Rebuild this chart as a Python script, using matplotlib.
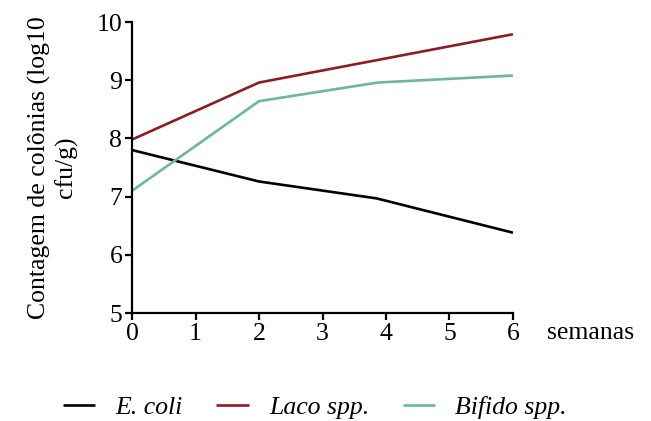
import matplotlib
matplotlib.use("Agg")
import matplotlib.pyplot as plt

plt.rcParams['font.family'] = ['Liberation Serif', 'DejaVu Serif']

# data
weeks_ecoli = [0, 2, 3.85, 6]
ecoli = [7.8, 7.26, 6.97, 6.38]

weeks_laco = [0, 2, 6]
laco = [7.98, 8.96, 9.79]

weeks_bifido = [0, 2, 3.87, 6]
bifido = [7.1, 8.64, 8.96, 9.08]

series_names = ['E. coli', 'Laco spp.', 'Bifido spp.']
colors = ['#000000', '#8e1b22', '#6cb89c']

x_ticks = [0, 1, 2, 3, 4, 5, 6]
y_ticks = [5, 6, 7, 8, 9, 10]

FONT_SIZE = 18.5

fig = plt.figure(figsize=(6.51, 4.21), dpi=100)
ax = fig.add_axes([0.2028, 0.2565, 0.5852, 0.6912])

for xs, ys, name, c in zip([weeks_ecoli, weeks_laco, weeks_bifido],
                           [ecoli, laco, bifido], series_names, colors):
    ax.plot(xs, ys, color=c, linewidth=1.9, label=name, solid_capstyle='butt')

ax.set_xlim(0, 6)
ax.set_ylim(5, 10)
ax.set_xticks(x_ticks)
ax.set_yticks(y_ticks)
ax.tick_params(axis='both', labelsize=FONT_SIZE, width=1.6, length=5,
               direction='out', pad=2)

for side in ['top', 'right']:
    ax.spines[side].set_visible(False)
for side in ['left', 'bottom']:
    ax.spines[side].set_linewidth(1.6)

ax.set_ylabel('Contagem de colônias (log10\ncfu/g)', fontsize=FONT_SIZE,
              linespacing=1.2)
ax.yaxis.set_label_coords(-0.143, 0.5)

fig.text(0.84, 0.208, 'semanas', fontsize=FONT_SIZE, ha='left', va='center')

leg = fig.legend(loc='center', bbox_to_anchor=(0.484, 0.033), ncol=3,
                 frameon=False, handlelength=1.25, handletextpad=0.8,
                 columnspacing=1.3, prop={'size': FONT_SIZE, 'style': 'italic'})
for line in leg.get_lines():
    line.set_linewidth(1.9)

plt.savefig('out.png', dpi=100)
